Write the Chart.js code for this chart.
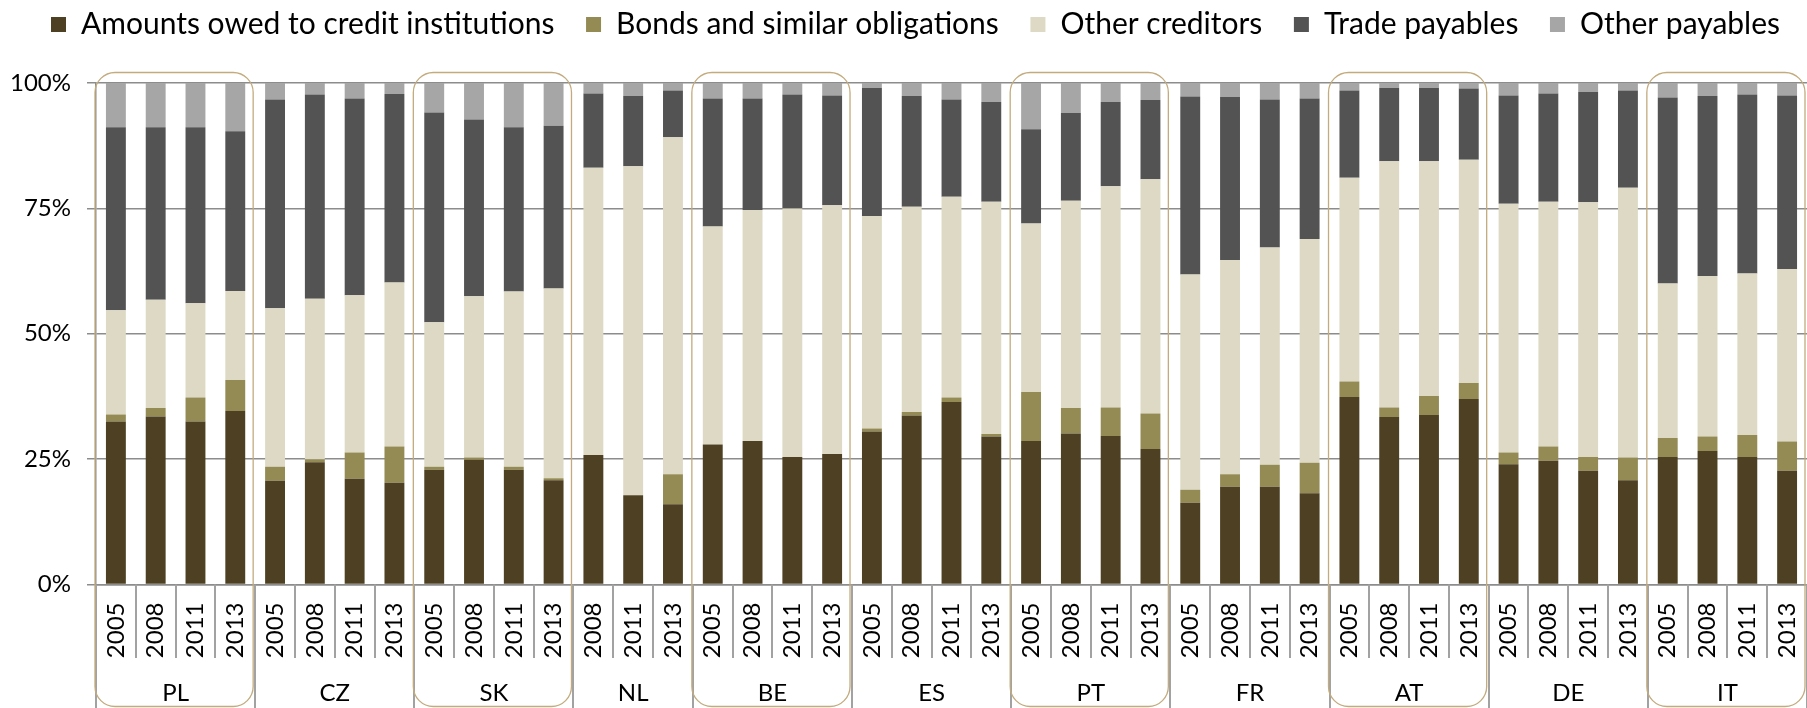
<!DOCTYPE html>
<html>
<head>
<meta charset="utf-8">
<script src="https://cdn.jsdelivr.net/npm/chart.js@4.4.1/dist/chart.umd.min.js"></script>
<style>
  html, body { margin: 0; padding: 0; background: #ffffff; }
  #wrap { width: 1807px; height: 708px; position: relative; }
</style>
</head>
<body>
<div id="wrap"><canvas id="c" width="1807" height="708"></canvas></div>
<script>
// ---------------- DATA ----------------
const countries = ['PL', 'CZ', 'SK', 'NL', 'BE', 'ES', 'PT', 'FR', 'AT', 'DE', 'IT'];
const countryYears = [
  ['2005', '2008', '2011', '2013'], // PL
  ['2005', '2008', '2011', '2013'], // CZ
  ['2005', '2008', '2011', '2013'], // SK
  ['2008', '2011', '2013'],         // NL
  ['2005', '2008', '2011', '2013'], // BE
  ['2005', '2008', '2011', '2013'], // ES
  ['2005', '2008', '2011', '2013'], // PT
  ['2005', '2008', '2011', '2013'], // FR
  ['2005', '2008', '2011', '2013'], // AT
  ['2005', '2008', '2011', '2013'], // DE
  ['2005', '2008', '2011', '2013']  // IT
];
const highlighted = ['PL', 'SK', 'BE', 'PT', 'AT', 'IT'];
const yTicks = [0, 25, 50, 75, 100];
const seriesNames = ['Amounts owed to credit institutions', 'Bonds and similar obligations',
  'Other creditors', 'Trade payables', 'Other payables'];

// shares in %, order: PL, CZ, SK, NL(3), BE, ES, PT, FR, AT, DE, IT
const amountsOwed = [32.5, 33.5, 32.5, 34.6, 20.7, 24.4, 21.1, 20.3, 22.9, 24.9, 22.9, 20.8,
  25.8, 17.8, 16.0, 27.9, 28.6, 25.4, 26.0, 30.5, 33.7, 36.4, 29.5, 28.6, 30.1, 29.6, 27.0,
  16.3, 19.5, 19.5, 18.2, 37.4, 33.4, 33.8, 37.0, 24.0, 24.7, 22.7, 20.8, 25.4, 26.6, 25.4, 22.7];
const bonds = [1.4, 1.7, 4.8, 6.2, 2.8, 0.6, 5.2, 7.2, 0.6, 0.4, 0.6, 0.4,
  0, 0, 6.0, 0, 0, 0, 0, 0.6, 0.7, 0.9, 0.5, 9.8, 5.1, 5.7, 7.1,
  2.6, 2.5, 4.4, 6.1, 3.1, 1.9, 3.8, 3.2, 2.3, 2.8, 2.7, 4.5, 3.8, 2.9, 4.4, 5.8];
const otherCreditors = [20.8, 21.6, 18.8, 17.7, 31.6, 32.0, 31.4, 32.7, 28.8, 32.2, 34.9, 37.8,
  57.3, 65.6, 67.2, 43.5, 46.1, 49.6, 49.6, 42.4, 40.9, 40.0, 46.3, 33.6, 41.3, 44.1, 46.7,
  42.9, 42.7, 43.3, 44.6, 40.6, 49.1, 46.8, 44.5, 49.6, 48.8, 50.8, 53.8, 30.8, 32.0, 32.2, 34.4];
const tradePayables = [36.5, 34.4, 35.1, 31.9, 41.6, 40.7, 39.2, 37.6, 41.8, 35.2, 32.8, 32.5,
  14.8, 14.0, 9.3, 25.5, 22.2, 22.7, 21.9, 25.5, 22.1, 19.4, 19.9, 18.8, 17.5, 16.8, 15.8,
  35.5, 32.5, 29.5, 28.0, 17.4, 14.6, 14.6, 14.2, 21.6, 21.6, 22.0, 19.4, 37.1, 35.9, 35.7, 34.6];
const otherPayables = [8.8, 8.8, 8.8, 9.6, 3.3, 2.3, 3.1, 2.2, 5.9, 7.3, 8.8, 8.5,
  2.1, 2.6, 1.5, 3.1, 3.1, 2.3, 2.5, 1.0, 2.6, 3.3, 3.8, 9.2, 6.0, 3.8, 3.4,
  2.7, 2.8, 3.3, 3.1, 1.5, 1.0, 1.0, 1.1, 2.5, 2.1, 1.8, 1.5, 2.9, 2.6, 2.3, 2.5];

// ---------------- derived category lists ----------------
const yearLabels = [];
const groups = []; // {name, start, end}
countries.forEach((c, gi) => {
  const start = yearLabels.length;
  countryYears[gi].forEach(y => yearLabels.push(y));
  groups.push({ name: c, start: start, end: yearLabels.length });
});

const FONT = 'Lato';
const GRID = '#8c8c8c';
const SEP = '#a2a2a2';
const BOX = '#c3ab7d';
const LEGEND_SIZE = 30;
const LEGEND_BOX = 15;
const LEGEND_LEFT = 51;      // left edge of first legend square
const LEGEND_SPAN = 1729;    // first square to end of last label
const LEGEND_TEXT_Y = 24.5;  // centre line of legend text
const PLOT_TOP = 83;

// legend spacing derived from text widths
const mctx = document.createElement('canvas').getContext('2d');
function legendPadding() {
  mctx.font = LEGEND_SIZE + 'px ' + FONT;
  let sum = 0;
  seriesNames.forEach(n => { sum += LEGEND_BOX + LEGEND_SIZE / 2 + mctx.measureText(n).width; });
  let p = (LEGEND_SPAN - sum) / (seriesNames.length - 1);
  const maxP = (1807 - sum) / (seriesNames.length + 1) - 1;
  return Math.max(8, Math.min(p, maxP));
}

const groupPlugin = {
  id: 'groupPlugin',
  afterLayout(chart) {
    const lg = chart.legend;
    if (!lg || !lg.lineWidths) return;
    const p = lg.options.labels.padding;
    const x0 = (lg.left + p + lg.right - lg.lineWidths[0]) / 2;
    const shift = LEGEND_LEFT - x0;
    lg.left += shift;
    lg.right += shift;
  },
  afterDraw(chart) {
    const { ctx, chartArea, scales: { x } } = chart;
    const H = chart.height;
    const step = x.getPixelForValue(1) - x.getPixelForValue(0);
    const boundary = i => x.getPixelForValue(i) - step / 2;
    const groupStarts = groups.map(g => g.start);
    ctx.save();
    // separators below the axis
    ctx.strokeStyle = SEP;
    ctx.lineWidth = 2;
    for (let i = 0; i <= yearLabels.length; i++) {
      const px = Math.round(boundary(i));
      const full = groupStarts.includes(i) || i === yearLabels.length;
      ctx.beginPath();
      ctx.moveTo(px, chartArea.bottom);
      ctx.lineTo(px, full ? H : chartArea.bottom + 73.5);
      ctx.stroke();
    }
    // country labels
    ctx.fillStyle = '#000';
    ctx.font = '24px ' + FONT;
    ctx.textAlign = 'center';
    ctx.textBaseline = 'middle';
    groups.forEach(g => {
      const cx = (boundary(g.start) + boundary(g.end)) / 2;
      ctx.fillText(g.name, cx, chartArea.bottom + 109);
    });
    // highlight boxes
    ctx.strokeStyle = BOX;
    ctx.lineWidth = 1.3;
    groups.filter(g => highlighted.includes(g.name)).forEach(g => {
      const l = boundary(g.start) - 1;
      const r = boundary(g.end) - 2;
      const t = chartArea.top - 10.5;
      const b = H - 1.5;
      ctx.beginPath();
      ctx.roundRect(l, t, r - l, b - t, 20);
      ctx.stroke();
    });
    ctx.restore();
  }
};

function draw() {
  Chart.defaults.font.family = FONT;
  const colors = ['#4e4022', '#948a54', '#ddd9c4', '#535353', '#a6a6a6'];
  const values = [amountsOwed, bonds, otherCreditors, tradePayables, otherPayables];
  const lp = legendPadding();
  const topPad = LEGEND_TEXT_Y - lp - LEGEND_SIZE / 2;
  const legendBottom = topPad + LEGEND_SIZE + lp + 10;
  const spacer = PLOT_TOP - legendBottom;
  new Chart(document.getElementById('c'), {
    type: 'bar',
    data: {
      labels: yearLabels,
      datasets: seriesNames.map((n, i) => ({
        label: n,
        data: values[i],
        backgroundColor: colors[i],
        borderWidth: 0,
        categoryPercentage: 1.0,
        barPercentage: 0.5
      }))
    },
    options: {
      responsive: false,
      animation: false,
      devicePixelRatio: 1,
      layout: { padding: { top: topPad, left: 0, right: 0, bottom: 0 } },
      plugins: {
        legend: {
          position: 'top',
          align: 'center',
          weight: 3000,
          labels: {
            boxWidth: LEGEND_BOX,
            boxHeight: LEGEND_BOX,
            padding: lp,
            color: '#000',
            font: { family: FONT, size: LEGEND_SIZE }
          }
        },
        // empty spacer between legend and plot
        title: {
          display: true,
          text: '',
          weight: 500,
          font: { size: 10, lineHeight: 1 },
          padding: { top: 0, bottom: spacer - 10 }
        },
        tooltip: { enabled: false }
      },
      scales: {
        x: {
          stacked: true,
          offset: true,
          grid: { display: false, drawTicks: false },
          border: { display: true, color: GRID, width: 1.5 },
          ticks: {
            autoSkip: false,
            minRotation: 90,
            maxRotation: 90,
            padding: 18,
            color: '#000',
            font: { family: FONT, size: 24 }
          },
          afterFit(s) { s.paddingLeft = 0; s.paddingRight = 0; }
        },
        y: {
          stacked: true,
          min: 0,
          max: 100,
          afterBuildTicks(s) { s.ticks = yTicks.map(v => ({ value: v })); },
          ticks: {
            padding: 16,
            color: '#000',
            font: { family: FONT, size: 24 },
            callback: v => v + '%'
          },
          grid: { color: GRID, lineWidth: 1.5, tickLength: 9 },
          border: { display: true, color: GRID, width: 1.5 },
          afterFit(s) { s.width = 96; s.paddingBottom = 708 - 584.5; }
        }
      }
    },
    plugins: [groupPlugin]
  });
}

if (document.fonts && document.fonts.load) {
  Promise.all([document.fonts.load('24px Lato'), document.fonts.load('30px Lato')])
    .then(draw, draw);
} else {
  draw();
}
</script>
</body>
</html>
